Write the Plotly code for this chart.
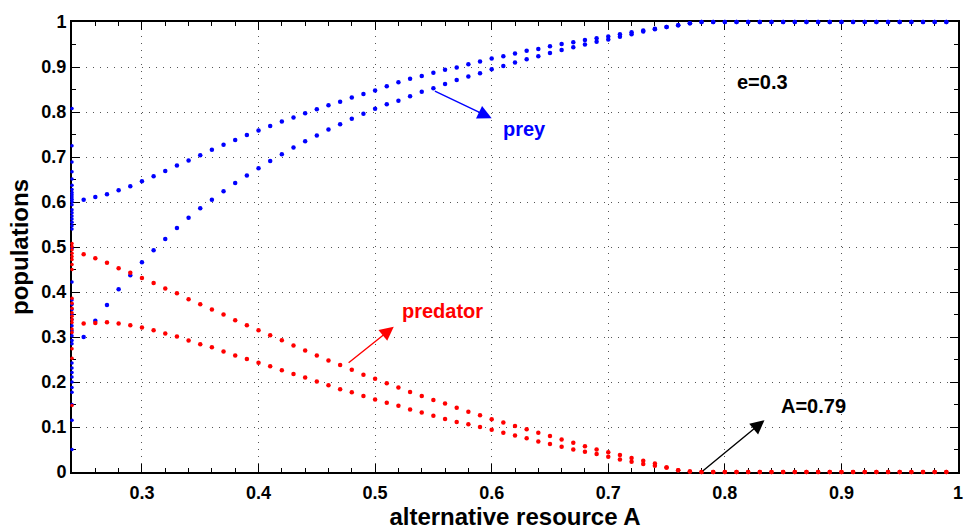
import numpy as np
import plotly.graph_objects as go

# Bifurcation parameter A (0.25 .. 0.99, step 0.01)
A = np.round(np.arange(0.25, 0.995, 0.01), 2)

prey_upper = [0.605, 0.611, 0.617, 0.626, 0.635, 0.646, 0.657, 0.669, 0.681, 0.692,
              0.704, 0.716, 0.727, 0.738, 0.749, 0.759, 0.769, 0.779, 0.788, 0.797,
              0.806, 0.815, 0.823, 0.832, 0.840, 0.848, 0.857, 0.866, 0.874, 0.880,
              0.887, 0.894, 0.899, 0.906, 0.912, 0.919, 0.924, 0.930, 0.936, 0.940,
              0.946, 0.951, 0.955, 0.960, 0.964, 0.968, 0.973, 0.977, 0.981, 0.985,
              0.989, 0.993, 0.997] + [1.0] * 22

prey_lower = [0.300, 0.336, 0.371, 0.406, 0.437, 0.466, 0.493, 0.518, 0.542, 0.565,
              0.586, 0.605, 0.624, 0.642, 0.659, 0.675, 0.691, 0.706, 0.721, 0.735,
              0.748, 0.761, 0.773, 0.785, 0.796, 0.807, 0.817, 0.825, 0.835, 0.845,
              0.853, 0.862, 0.871, 0.879, 0.886, 0.895, 0.902, 0.910, 0.917, 0.924,
              0.931, 0.938, 0.944, 0.950, 0.956, 0.961, 0.967, 0.973, 0.979, 0.984,
              0.989, 0.993, 0.997] + [1.0] * 22

pred_upper = [0.484, 0.475, 0.465, 0.453, 0.443, 0.431, 0.420, 0.408, 0.397, 0.384,
              0.373, 0.361, 0.350, 0.337, 0.326, 0.315, 0.304, 0.293, 0.281, 0.270,
              0.259, 0.248, 0.238, 0.227, 0.216, 0.207, 0.197, 0.188, 0.178, 0.169,
              0.160, 0.152, 0.143, 0.134, 0.126, 0.117, 0.110, 0.102, 0.095, 0.087,
              0.080, 0.072, 0.065, 0.057, 0.050, 0.044, 0.038, 0.031, 0.025, 0.019,
              0.010, 0.004, 0.001] + [0.0] * 22

pred_lower = [0.330, 0.331, 0.333, 0.330, 0.326, 0.321, 0.315, 0.308, 0.301, 0.292,
              0.284, 0.277, 0.268, 0.259, 0.251, 0.243, 0.235, 0.226, 0.218, 0.210,
              0.201, 0.193, 0.184, 0.177, 0.169, 0.161, 0.154, 0.147, 0.139, 0.132,
              0.125, 0.118, 0.111, 0.106, 0.100, 0.094, 0.087, 0.081, 0.075, 0.068,
              0.062, 0.056, 0.050, 0.045, 0.040, 0.034, 0.028, 0.023, 0.018, 0.014,
              0.010, 0.004, 0.001] + [0.0] * 22

# Transient points at the first parameter value A = 0.24
A0 = 0.24
prey_A0 = [0.808, 0.725, 0.689, 0.667, 0.651, 0.637, 0.628, 0.621, 0.616, 0.611,
           0.606, 0.601, 0.594, 0.583, 0.576, 0.569, 0.562, 0.555, 0.547, 0.540,
           0.497, 0.422, 0.382, 0.372, 0.361, 0.350, 0.339, 0.325, 0.314, 0.303,
           0.292, 0.285, 0.242, 0.231, 0.221, 0.211, 0.200, 0.188, 0.177, 0.150,
           0.115, 0.050]
pred_A0 = [0.508, 0.501, 0.494, 0.486, 0.479, 0.472, 0.461, 0.450, 0.386, 0.375,
           0.364, 0.354, 0.346, 0.339, 0.332, 0.318, 0.310, 0.274, 0.253, 0.148]

BLUE = "#0000ff"
RED = "#ff0000"
FONT = "Liberation Sans"

fig = go.Figure()
for ys in (prey_upper, prey_lower):
    fig.add_trace(go.Scatter(x=A, y=ys, mode="markers", cliponaxis=False,
                             marker=dict(color=BLUE, size=4.5, line=dict(width=0))))
fig.add_trace(go.Scatter(x=[A0] * len(prey_A0), y=prey_A0, mode="markers", cliponaxis=False,
                         marker=dict(color=BLUE, size=3.5, line=dict(width=0))))
for ys in (pred_upper, pred_lower):
    fig.add_trace(go.Scatter(x=A, y=ys, mode="markers", cliponaxis=False,
                             marker=dict(color=RED, size=4.5, line=dict(width=0))))
fig.add_trace(go.Scatter(x=[A0] * len(pred_A0), y=pred_A0, mode="markers", cliponaxis=False,
                         marker=dict(color=RED, size=3.5, line=dict(width=0))))

axis_common = dict(
    showline=True, linecolor="black", linewidth=2, mirror="ticks",
    ticks="inside", ticklen=8, tickwidth=1, tickcolor="black",
    showgrid=True, gridcolor="#555555", gridwidth=1, griddash="1px,6px",
    zeroline=False, layer="below traces",
    tickfont=dict(family=FONT, size=18, color="black", weight="bold"),
)

fig.update_xaxes(range=[0.24, 1.0], dtick=0.1, tick0=0, ticklabelstandoff=3,
                 minor=dict(dtick=0.02, tick0=0, ticks="inside", ticklen=4,
                            tickcolor="black", showgrid=False),
                 title=dict(text="alternative resource A", standoff=1,
                            font=dict(family=FONT, size=24, color="black", weight="bold")),
                 **axis_common)
fig.update_yaxes(range=[0, 1.0], dtick=0.1, tick0=0,
                 minor=dict(dtick=0.05, tick0=0, ticks="inside", ticklen=4,
                            tickcolor="black", showgrid=False),
                 title=dict(text="populations", standoff=6,
                            font=dict(family=FONT, size=24, color="black", weight="bold")),
                 **axis_common)

def arrow(x, y, ax, ay, color):
    fig.add_annotation(x=x, y=y, ax=ax, ay=ay, xref="x", yref="y", axref="x", ayref="y",
                       text="", showarrow=True, arrowhead=2, arrowsize=2,
                       arrowwidth=1.4, arrowcolor=color, standoff=0, startstandoff=0)

def label(x, y, text, color):
    fig.add_annotation(x=x, y=y, xref="x", yref="y", text=text, showarrow=False,
                       font=dict(family=FONT, size=20, color=color, weight="bold"))

arrow(0.600, 0.786, 0.550, 0.848, BLUE)
label(0.628, 0.763, "prey", BLUE)
arrow(0.516, 0.323, 0.476, 0.240, RED)
label(0.558, 0.358, "predator", RED)
arrow(0.834, 0.115, 0.780, 0.0, "black")
label(0.876, 0.146, "A=0.79", "black")
label(0.832, 0.867, "e=0.3", "black")

fig.update_layout(
    width=975, height=532,
    margin=dict(l=72, r=12, t=15, b=53),
    paper_bgcolor="white", plot_bgcolor="white",
    showlegend=False,
)

fig.write_html("out.html")
